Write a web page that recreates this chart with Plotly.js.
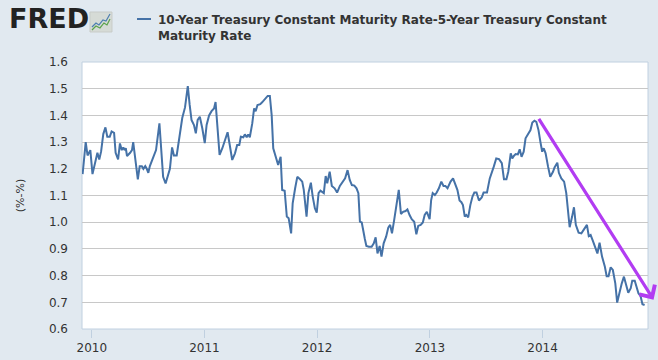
<!DOCTYPE html>
<html><head><meta charset="utf-8">
<script src="https://cdn.plot.ly/plotly-3.0.1.min.js"></script>
<style>html,body{margin:0;padding:0;background:#e1e9f0;}#chart{width:658px;height:360px;}</style>
</head><body><div id="chart"></div>
<script>
// Weekly-ish trace of the spread (percentage points)
const dates = [
'2009-12-02','2009-12-12','2009-12-18','2009-12-23','2009-12-27','2010-01-03','2010-01-12','2010-01-19','2010-01-25','2010-01-31',
'2010-02-07','2010-02-14','2010-02-20','2010-02-28','2010-03-06','2010-03-14','2010-03-19','2010-03-27','2010-04-02','2010-04-08',
'2010-04-13','2010-04-17','2010-04-21','2010-04-25','2010-05-05','2010-05-11','2010-05-15','2010-05-23','2010-05-30','2010-06-05',
'2010-06-12','2010-06-17','2010-06-23','2010-06-28','2010-07-03','2010-07-08','2010-07-19','2010-07-28','2010-08-08','2010-08-13',
'2010-08-20','2010-08-28','2010-09-06','2010-09-11','2010-09-18','2010-09-24','2010-10-03','2010-10-10','2010-10-21','2010-10-30',
'2010-11-08','2010-11-14','2010-11-20','2010-11-28','2010-12-04','2010-12-10','2010-12-17','2010-12-25','2011-01-02','2011-01-08',
'2011-01-16','2011-01-24','2011-02-01','2011-02-06','2011-02-13','2011-02-19','2011-02-28','2011-03-08','2011-03-17','2011-03-24',
'2011-04-01','2011-04-10','2011-04-17','2011-04-24','2011-04-29','2011-05-07','2011-05-12','2011-05-18','2011-05-23','2011-05-28',
'2011-06-05','2011-06-11','2011-06-16','2011-06-22','2011-07-01','2011-07-07','2011-07-16','2011-07-25','2011-08-01','2011-08-07',
'2011-08-12','2011-08-21','2011-08-28','2011-09-01','2011-09-05','2011-09-10','2011-09-18','2011-09-25','2011-10-01','2011-10-09',
'2011-10-14','2011-10-22','2011-10-29','2011-11-07','2011-11-14','2011-11-19','2011-11-28','2011-12-04','2011-12-12','2011-12-18',
'2011-12-25','2011-12-31','2012-01-06','2012-01-12','2012-01-19','2012-01-23','2012-01-29','2012-02-03','2012-02-11','2012-02-18',
'2012-02-27','2012-03-06','2012-03-15','2012-03-24','2012-04-01','2012-04-09','2012-04-16','2012-04-23','2012-05-01','2012-05-08',
'2012-05-14','2012-05-19','2012-05-25','2012-06-04','2012-06-09','2012-06-17','2012-06-26','2012-07-03','2012-07-09','2012-07-15',
'2012-07-22','2012-07-28','2012-08-04','2012-08-12','2012-08-19','2012-08-25','2012-08-31','2012-09-07','2012-09-15','2012-09-22',
'2012-09-29','2012-10-06','2012-10-14','2012-10-20','2012-10-27','2012-11-03','2012-11-11','2012-11-18','2012-11-24','2012-12-02',
'2012-12-09','2012-12-15','2012-12-22','2012-12-26','2012-12-31','2013-01-05','2013-01-10','2013-01-17','2013-01-23','2013-01-30',
'2013-02-07','2013-02-14','2013-02-20','2013-02-27','2013-03-04','2013-03-09','2013-03-17','2013-03-25','2013-03-31','2013-04-07',
'2013-04-13','2013-04-18','2013-04-24','2013-04-29','2013-05-05','2013-05-12','2013-05-19','2013-05-25','2013-06-01','2013-06-09',
'2013-06-18','2013-06-24','2013-07-05','2013-07-14','2013-07-20','2013-07-27','2013-08-04','2013-08-13','2013-08-22','2013-08-29',
'2013-09-06','2013-09-12','2013-09-20','2013-09-25','2013-09-30','2013-10-06','2013-10-13','2013-10-19','2013-10-25','2013-11-01',
'2013-11-07','2013-11-15','2013-11-23','2013-11-29','2013-12-06','2013-12-12','2013-12-19','2013-12-25','2013-12-31','2014-01-05',
'2014-01-11','2014-01-19','2014-01-26','2014-02-04','2014-02-09','2014-02-18','2014-02-23','2014-03-03','2014-03-12','2014-03-19',
'2014-03-25','2014-03-30','2014-04-07','2014-04-13','2014-04-19','2014-04-28','2014-05-07','2014-05-15','2014-05-25','2014-05-31',
'2014-06-06','2014-06-13','2014-06-21','2014-06-28','2014-07-05','2014-07-13','2014-07-22','2014-07-28','2014-08-03','2014-08-10',
'2014-08-17','2014-08-25','2014-08-31','2014-09-08','2014-09-15','2014-09-22','2014-09-30','2014-10-06','2014-10-14','2014-10-19',
'2014-10-27','2014-11-02','2014-11-08','2014-11-15','2014-11-21','2014-11-28'
];
const spread = [
1.18,1.30,1.25,1.26,1.27,1.18,1.23,1.26,1.235,1.265,
1.33,1.355,1.32,1.32,1.34,1.335,1.26,1.235,1.295,1.27,
1.28,1.27,1.277,1.248,1.26,1.27,1.30,1.235,1.16,1.21,
1.21,1.20,1.21,1.20,1.185,1.21,1.24,1.27,1.37,1.285,
1.17,1.145,1.175,1.20,1.28,1.25,1.25,1.30,1.39,1.43,
1.51,1.44,1.383,1.364,1.333,1.383,1.395,1.352,1.296,1.364,
1.40,1.416,1.426,1.45,1.34,1.252,1.277,1.302,1.337,1.289,
1.233,1.258,1.289,1.289,1.32,1.318,1.329,1.318,1.329,1.318,
1.37,1.426,1.416,1.439,1.442,1.449,1.461,1.473,1.473,1.40,
1.277,1.239,1.214,1.230,1.245,1.121,1.118,1.021,1.015,0.958,
1.071,1.127,1.170,1.161,1.152,1.121,1.021,1.109,1.148,1.096,
1.052,1.036,1.109,1.118,1.114,1.109,1.173,1.146,1.189,1.136,
1.127,1.111,1.136,1.152,1.164,1.195,1.158,1.139,1.137,1.127,
1.109,1.002,0.999,0.937,0.911,0.908,0.908,0.921,0.943,0.883,
0.911,0.871,0.921,0.946,0.980,0.990,0.958,1.008,1.077,1.121,
1.031,1.039,1.042,1.048,1.027,1.011,1.002,0.955,0.986,0.990,
0.999,1.027,1.039,1.027,1.011,1.083,1.109,1.102,1.111,1.127,
1.152,1.136,1.136,1.127,1.139,1.152,1.164,1.143,1.121,1.081,
1.075,1.064,1.021,1.027,1.018,1.064,1.096,1.111,1.111,1.081,
1.093,1.111,1.111,1.164,1.189,1.208,1.239,1.236,1.221,1.161,
1.161,1.189,1.258,1.239,1.248,1.255,1.254,1.273,1.245,1.264,
1.314,1.330,1.345,1.373,1.380,1.376,1.345,1.302,1.264,1.277,
1.258,1.208,1.170,1.189,1.205,1.223,1.185,1.164,1.152,1.109,
1.046,0.981,1.021,1.056,0.990,0.961,0.958,0.973,0.990,0.948,
0.952,0.931,0.908,0.883,0.923,0.871,0.834,0.798,0.798,0.831,
0.821,0.771,0.699,0.740,0.771,0.796,0.759,0.736,0.753,0.781,
0.781,0.753,0.734,0.723,0.693,0.690
];
const yTicks = [0.6,0.7,0.8,0.9,1.0,1.1,1.2,1.3,1.4,1.5,1.6];
const xTicks = ['2010-01-01','2011-01-01','2012-01-01','2013-01-01','2014-01-01'];
const xTickText = ['2010','2011','2012','2013','2014'];
const seriesName = '10-Year Treasury Constant Maturity Rate-5-Year Treasury Constant<br>Maturity Rate';
const arrowTail = {x:'2013-12-17', y:1.393};
const arrowHead = {x:'2014-12-27', y:0.71};

const font = 'Verdana, "DejaVu Sans", sans-serif';
const trace = {x:dates, y:spread, type:'scatter', mode:'lines',
  line:{color:'#4572a7', width:2}, hoverinfo:'x+y', showlegend:false};

const layout = {
  width:658, height:360,
  paper_bgcolor:'#e1e9f0', plot_bgcolor:'#ffffff',
  margin:{l:82, r:10, t:62, b:31},
  font:{family:font, color:'#333333', size:12},
  xaxis:{type:'date', range:['2009-11-30','2014-12-09'], tickvals:xTicks, ticktext:xTickText,
    ticks:'outside', ticklen:8, tickcolor:'#c0d0e0', tickwidth:1, showgrid:false, zeroline:false,
    showline:false, tickfont:{size:12, color:'#333333'}},
  yaxis:{range:[0.6,1.6], tickvals:yTicks, tickformat:'.1f', showgrid:true, gridcolor:'#c8c8c8',
    gridwidth:1, zeroline:false, showline:false, ticks:'', ticklabelstandoff:13,
    tickfont:{size:12, color:'#333333'},
    title:{text:'(%-%)', font:{size:11, color:'#333333'}, standoff:22}},
  shapes:[
    {type:'rect', xref:'paper', yref:'paper', x0:0, x1:1, y0:0, y1:1, line:{color:'#c0d0e0', width:1}, layer:'below', fillcolor:'rgba(0,0,0,0)'},
    {type:'rect', xref:'paper', yref:'paper', xsizemode:'pixel', ysizemode:'pixel', xanchor:0.0141, yanchor:1.1124,
      x0:0, x1:22, y0:0, y1:20, fillcolor:'#d6dbd6', line:{color:'#c8ccc8', width:1}},
    {type:'path', xref:'paper', yref:'paper', xsizemode:'pixel', ysizemode:'pixel', xanchor:0.0141, yanchor:1.1124,
      path:'M 2 5 L 6 9 L 9 7 L 13 12 L 16 11 L 20 18', line:{color:'#4d7fb0', width:1.2}},
    {type:'path', xref:'paper', yref:'paper', xsizemode:'pixel', ysizemode:'pixel', xanchor:0.0141, yanchor:1.1124,
      path:'M 2 2 L 6 6 L 10 4 L 14 9 L 17 7 L 20 13', line:{color:'#5aa24a', width:1.2}},
    {type:'line', xref:'paper', yref:'paper', xsizemode:'pixel', ysizemode:'pixel', xanchor:0.0972, yanchor:1.161,
      x0:0, x1:14, y0:0, y1:0, line:{color:'#4572a7', width:2}}
  ],
  annotations:[
    {xref:'paper', yref:'paper', x:-0.1325, y:1.163, xanchor:'left', yanchor:'middle', showarrow:false,
      text:'<b>FRED</b>', font:{family:'"DejaVu Sans", sans-serif', size:27, color:'#222222'}},
    {xref:'paper', yref:'paper', x:0.131, y:1.191, xanchor:'left', yanchor:'top', align:'left', showarrow:false,
      text:'<b>'+seriesName.replace('<br>','</b><br><b>')+'</b>', font:{family:font, size:12, color:'#333333'}},
    {x:arrowHead.x, y:arrowHead.y, ax:arrowTail.x, ay:arrowTail.y, xref:'x', yref:'y', axref:'x', ayref:'y',
      showarrow:true, arrowhead:4, arrowsize:1.1, arrowwidth:3.2, arrowcolor:'#b23cf2', text:''}
  ]
};
Plotly.newPlot('chart', [trace], layout, {staticPlot:true, displayModeBar:false});
</script></body></html>
